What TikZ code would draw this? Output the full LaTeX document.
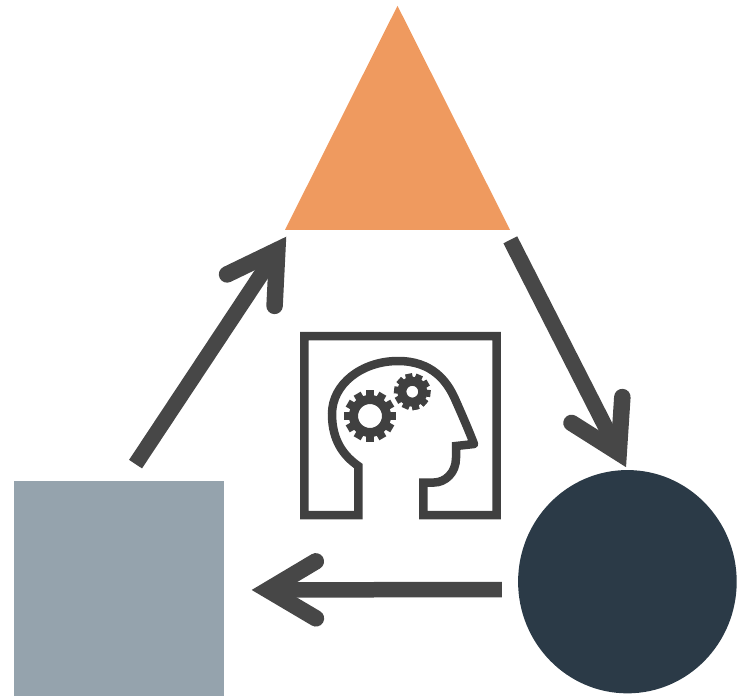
\documentclass[tikz,border=0pt]{standalone}
\usepackage{xcolor}
\usetikzlibrary{arrows.meta,positioning,shapes.geometric}
\definecolor{qorange}{RGB}{239,154,95}
\definecolor{qslate}{RGB}{149,163,173}
\definecolor{qnavy}{RGB}{43,58,71}
\definecolor{qarrow}{RGB}{71,71,71}
\definecolor{qicon}{RGB}{64,64,64}
\begin{document}
\begin{tikzpicture}[
  x=1pt,y=-1pt,
  sqbox/.style={fill=qslate,inner sep=0pt,minimum width=210pt,minimum height=215pt},
  dotbox/.style={ellipse,fill=qnavy,inner sep=0pt,minimum width=218.6pt,minimum height=223.3pt},
  tribox/.style={isosceles triangle,isosceles triangle stretches,shape border rotate=90,
    fill=qorange,inner sep=0pt,minimum width=225pt,minimum height=224pt},
  flow/.style={line width=15.5pt,draw=qarrow,
    -{Straight Barb[length=48pt,width=57pt,line width=16.5pt,line cap=round,line join=miter]}},
  iconline/.style={draw=qicon,line width=8.5pt,line join=miter,line cap=round}
]
\useasboundingbox (0,0) rectangle (745,696);
\node[sqbox] (square) at (119,588.5) {};
\node[dotbox,right=293.7pt of square,yshift=6.8pt] (dot) {};
\node[tribox,anchor=lower side] (apex) at (397.5,230) {};
% arrows
\draw[flow,shorten <=20pt,shorten >=8pt] ([xshift=5.5pt]square.north) -- ([xshift=6pt]apex.lower side -| apex.left corner);
\draw[flow,shorten <=11pt,shorten >=3pt] ([xshift=-5pt]apex.right corner) -- (dot.north);
\draw[flow,shorten <=16pt,shorten >=27.5pt] ([yshift=-7.8pt]dot.west) -- ([yshift=-1.5pt]square.east);
% head icon
\draw[iconline] (474,444) -- (456,446) -- (456,458) .. controls (456,473) and (445,482.5) .. (434,482.5)
  -- (423.3,482.5) -- (423.3,515) -- (496.5,515) -- (496.5,336) -- (304.3,336) -- (304.3,515)
  -- (358.3,515) -- (358.3,466) .. controls (344,456) and (332,441) .. (332,414)
  .. controls (332,384) and (362,361) .. (398,361) .. controls (432,361) and (447,381) .. (455,399)
  .. controls (463,417) and (469,431) .. (474,444);
% gears
\foreach \cx/\cy/\rring/\wring/\rout/\rot/\tw/\stepa in {370/416/16.5/9/25.7/0/8/30,412.3/391.7/10.5/9/18.3/6/7/36}{
  \draw[qicon,line width=\wring pt] (\cx,\cy) circle (\rring);
  \foreach \n in {1,...,12}{
    \pgfmathsetmacro\a{\n*\stepa+\rot}
    \draw[qicon,line width=\tw pt] ({\cx+(\rring+2)*cos(\a)},{\cy+(\rring+2)*sin(\a)})
      -- ({\cx+\rout*cos(\a)},{\cy+\rout*sin(\a)});
  }
}
\end{tikzpicture}
\end{document}
